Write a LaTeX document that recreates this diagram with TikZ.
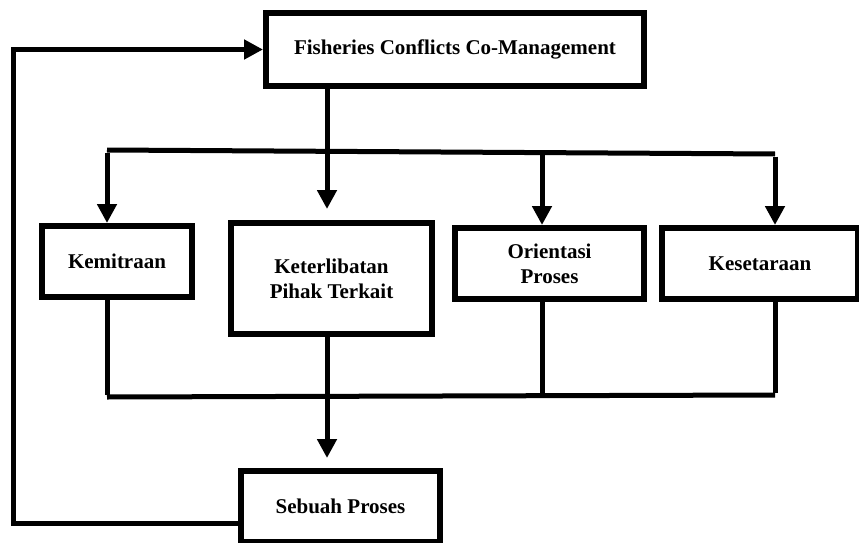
\documentclass[tikz,border=0pt]{standalone}
\usepackage{fontspec}
\setmainfont{Liberation Serif}
\usetikzlibrary{arrows.meta}
\begin{document}
\begin{tikzpicture}[x=1pt,y=-1pt,
  box/.style={draw=black, line width=6pt, fill=white, align=center, inner sep=0pt,
    font=\fontsize{21}{25}\selectfont\bfseries},
  conn/.style={line width=5pt},
  arr/.style={line width=5pt, -{Triangle[length=19pt,width=19pt]}}]
\useasboundingbox (0,0) rectangle (859,543);
\begin{scope}
\clip (0,0) rectangle (859,543);
% boxes
\node[box, minimum width=378pt, minimum height=73pt] (top) at (455,49.5) {Fisheries Conflicts Co-Management};
\node[box, minimum width=150pt, minimum height=71pt] (kem) at (117,261.5) {Kemitraan};
\node[box, minimum width=201pt, minimum height=111pt] (ket) at (331.5,278.5) {Keterlibatan\\Pihak Terkait};
\node[box, minimum width=189pt, minimum height=71pt] (ori) at (549.5,263.5) {Orientasi\\Proses};
\node[box, minimum width=196pt, minimum height=71pt] (kes) at (760,263.5) {Kesetaraan};
\node[box, minimum width=199pt, minimum height=71pt] (seb) at (340.5,506.5) {Sebuah Proses};
% helper coordinates
\coordinate (dl) at (107,150);
\coordinate (dr) at (775,154);
\coordinate (dm) at (542,152.5);
\coordinate (bl) at (107,397);
\coordinate (br) at (775,395);
\coordinate (bm) at (542,396);
\coordinate (vx) at (327,0);
\coordinate (sebtip) at (327,458);
\coordinate (kettip) at (327,209);
\coordinate (lb) at (13,523);
% distribution from top
\draw[arr] (top.south -| vx) -- (kettip);
\draw[conn] (dl) -- (dr);
\draw[arr] ([yshift=-2.5pt]dl) -- (kem.north -| dl);
\draw[arr] (dm) -- (ori.north -| dm);
\draw[arr] ([yshift=-2.5pt]dr) -- (kes.north -| dr);
% collection below
\draw[conn] ([yshift=2.5pt]bl) -- (kem.south -| bl);
\draw[conn] (bl) -- (br);
\draw[conn] (bm) -- (ori.south -| bm);
\draw[conn] ([yshift=2.5pt]br) -- (kes.south -| br);
\draw[arr] (ket.south -| vx) -- (sebtip);
% feedback loop
\draw[arr, line join=miter] (seb.west |- lb) -- (lb) -- (lb |- top.west) -- (top.west);
\end{scope}
\end{tikzpicture}
\end{document}
